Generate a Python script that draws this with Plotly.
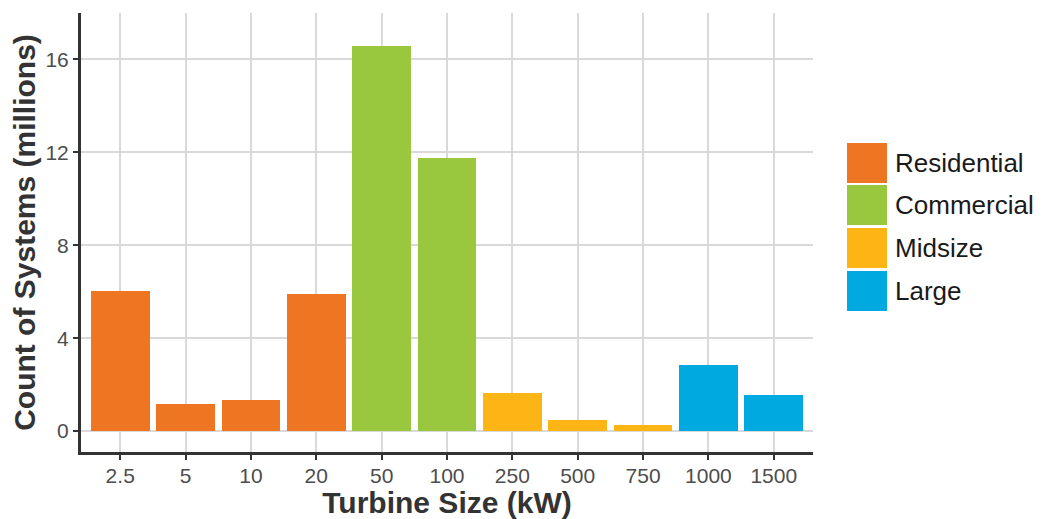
import plotly.graph_objects as go

# ---- data ----
sizes = ["2.5", "5", "10", "20", "50", "100", "250", "500", "750", "1000", "1500"]
counts = [6.05, 1.15, 1.32, 5.92, 16.6, 11.75, 1.66, 0.48, 0.26, 2.84, 1.55]
groups = ["Residential", "Residential", "Residential", "Residential", "Commercial",
          "Commercial", "Midsize", "Midsize", "Midsize", "Large", "Large"]
group_names = ["Residential", "Commercial", "Midsize", "Large"]
group_colors = ["#EE7623", "#99C83E", "#FDB515", "#00A9E0"]
y_ticks = [0, 4, 8, 12, 16]

# page has an 8px body margin: figure coords = screen coords - 8
OFF = 8
W, H = 1043 - OFF, 519 - OFF
L, R, T, B = 81 - OFF, 813 - OFF, 13 - OFF, 452 - OFF  # plot area in figure px

fig = go.Figure()
for g, c in zip(group_names, group_colors):
    xs = [s for s, gg in zip(sizes, groups) if gg == g]
    ys = [v for v, gg in zip(counts, groups) if gg == g]
    fig.add_trace(go.Bar(x=xs, y=ys, name=g, marker=dict(color=c, line=dict(width=0)),
                         width=0.9, showlegend=False))

# custom legend with large swatches (screen px converted to paper coords)
def px_x(x):
    return (x - OFF - L) / (R - L)

def px_y(y):
    return (B - (y - OFF)) / (B - T)

sw_top = [143, 185, 228, 271]
for i, (g, c) in enumerate(zip(group_names, group_colors)):
    y0 = sw_top[i]
    fig.add_shape(type="rect", xref="paper", yref="paper",
                  x0=px_x(847), x1=px_x(887), y0=px_y(y0 + 40), y1=px_y(y0),
                  fillcolor=c, line=dict(width=0))
    fig.add_annotation(xref="paper", yref="paper", x=px_x(893), y=px_y(y0 + 20),
                       text=g, showarrow=False, xanchor="left", yanchor="middle",
                       font=dict(size=26, color="#1A1A1A", family="Liberation Sans, Arial"))

fig.update_layout(
    width=W, height=H,
    margin=dict(l=L, r=W - R, t=T, b=H - B),
    paper_bgcolor="white", plot_bgcolor="white",
    barmode="overlay", bargap=0,
    font=dict(family="Liberation Sans, Arial", color="#4D4D4D"),
    showlegend=False,
)
fig.update_xaxes(
    type="category", categoryorder="array", categoryarray=sizes,
    range=[-0.6, len(sizes) - 0.4],
    showgrid=True, gridcolor="#D9D9D9", gridwidth=2,
    showline=True, linecolor="#333333", linewidth=3,
    ticks="outside", ticklen=5, tickwidth=2, tickcolor="#333333",
    ticklabelstandoff=-2,
    tickfont=dict(size=21, color="#4D4D4D"),
    title=dict(text="<b>Turbine Size (kW)</b>", font=dict(size=30, color="#333333"), standoff=6),
    automargin=False, zeroline=False,
)
fig.update_yaxes(
    range=[-0.9, 18.0],
    tickvals=y_ticks, ticktext=[str(t) for t in y_ticks],
    showgrid=True, gridcolor="#D9D9D9", gridwidth=2,
    showline=True, linecolor="#333333", linewidth=3,
    ticks="outside", ticklen=5, tickwidth=2, tickcolor="#333333",
    tickfont=dict(size=21, color="#4D4D4D"),
    title=dict(text="<b>Count of Systems (millions)</b>", font=dict(size=30, color="#333333"), standoff=2),
    automargin=False, zeroline=False,
)

fig.write_html("out.html")
